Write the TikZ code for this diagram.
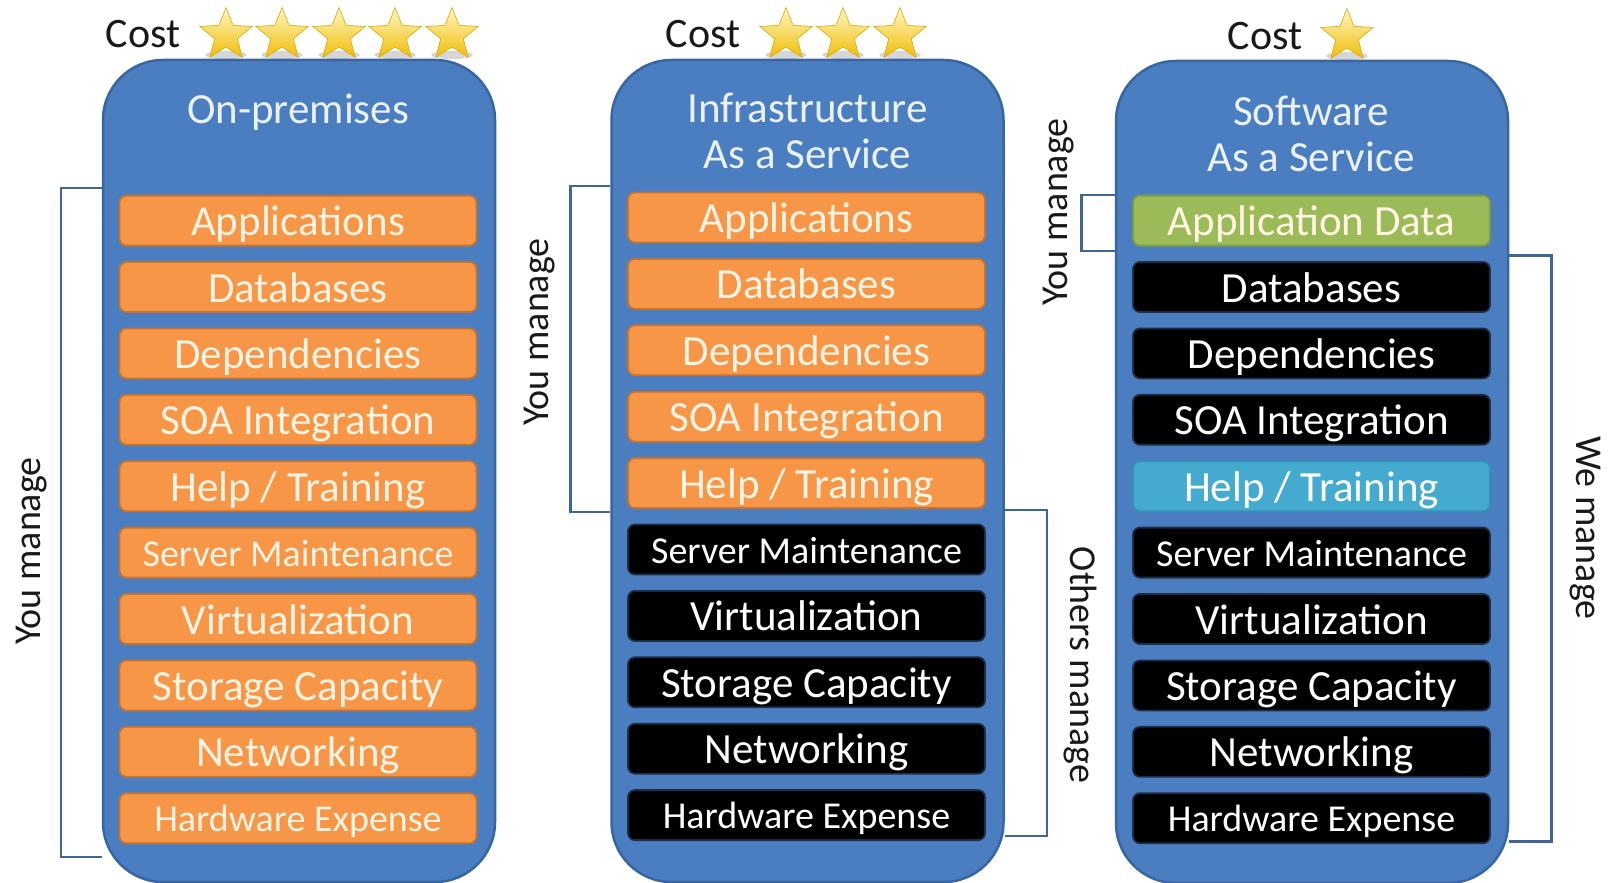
\documentclass[tikz,border=0pt]{standalone}
\usepackage{fontspec}
\setmainfont{Carlito}
\usetikzlibrary{shapes.geometric}
\definecolor{contblue}{HTML}{4A7EC1}
\definecolor{contedge}{HTML}{3766A3}
\definecolor{orangebox}{HTML}{F79646}
\definecolor{orangeedge}{HTML}{C7732F}
\definecolor{orangetext}{HTML}{FFF3E4}
\definecolor{greenbox}{HTML}{9BBB59}
\definecolor{greenedge}{HTML}{7E9C42}
\definecolor{tealbox}{HTML}{45AAD0}
\definecolor{tealedge}{HTML}{3590B5}
\definecolor{blackedge}{HTML}{1E2D48}
\definecolor{bracketblue}{HTML}{3F6697}
\definecolor{titletext}{HTML}{EAF1FB}
\definecolor{starlight}{HTML}{FFF7C2}
\definecolor{stardark}{HTML}{F0BE0A}
\definecolor{staredge}{HTML}{D9A800}
\begin{document}
\begin{tikzpicture}[x=1pt,y=-1pt,
  container/.style={draw=contedge, line width=2.5pt, fill=contblue, rounded corners=60pt,
    minimum width=392pt, minimum height=822pt, inner sep=0pt},
  layer/.style={rounded corners=7pt, line width=1.8pt, minimum width=357pt, minimum height=50pt,
    inner sep=0pt, text height=30pt, text depth=0pt, text=white, font=\fontsize{43}{50}\selectfont},
  smalltext/.style={font=\fontsize{38}{45}\selectfont, text height=27pt},
  ownbox/.style={layer, fill=orangebox, draw=orangeedge, text=orangetext},
  blackbox/.style={layer, fill=black, draw=blackedge},
  greenlayer/.style={layer, fill=greenbox, draw=greenedge, text=orangetext},
  teallayer/.style={layer, fill=tealbox, draw=tealedge},
  title/.style={text=titletext, font=\fontsize{43}{46}\selectfont, align=center, text height=30pt, text depth=0pt},
  costtext/.style={text=black!90, font=\fontsize{42}{48}\selectfont},
  starnode/.style={star, star points=5, star point ratio=2.3, minimum size=55pt, inner sep=0pt,
    top color=starlight, bottom color=stardark, draw=staredge, line width=0.6pt},
  starshadow/.style={fill=black!35, opacity=0.45},
  bracket/.style={draw=bracketblue, line width=2.2pt},
  sidetext/.style={text=black!90, font=\fontsize{38}{45}\selectfont}
]
\useasboundingbox (0,0) rectangle (1609,883);
\clip (0,0) rectangle (1609,883);
\fill[white] (0,0) rectangle (1609,883);

% ---------- cost rows ----------
\node[costtext] (cost1) at (143,34) {Cost};
\foreach \sx/\nm in {226/s11, 282/s12, 339/s13, 395/s14, 452/s15}{
  \fill[starshadow] (\sx,55) ellipse (21pt and 4pt);
  \node[starnode] (\nm) at (\sx,35) {};
}
\node[costtext] (cost2) at (703,34) {Cost};
\foreach \sx/\nm in {786/s21, 843/s22, 900/s23}{
  \fill[starshadow] (\sx,55) ellipse (21pt and 4pt);
  \node[starnode] (\nm) at (\sx,35) {};
}
\node[costtext] (cost3) at (1265,36) {Cost};
\fill[starshadow] (1347,56) ellipse (21pt and 4pt);
\node[starnode] (s31) at (1347,36) {};

% ---------- containers ----------
\node[container] (col1) at (299,471) {};
\node[container] (col2) at (807.5,471) {};
\node[container] (col3) at (1312,472) {};

\node[title] (t1) at (298,108) {On-premises};
\node[title] (t2) at (807.5,153.5) {Infrastructure\\As a Service};
\node[title] (t3) at (1311,156.5) {Software\\As a Service};

% ---------- column 1 ----------
\node[ownbox] (a0) at (298,220.6) {Applications};
\node[ownbox] (a1) at (298,287.0) {Databases};
\node[ownbox] (a2) at (298,353.4) {Dependencies};
\node[ownbox] (a3) at (298,419.8) {SOA Integration};
\node[ownbox] (a4) at (298,486.2) {Help / Training};
\node[ownbox,smalltext] (a5) at (298,552.6) {Server Maintenance};
\node[ownbox] (a6) at (298,619.0) {Virtualization};
\node[ownbox] (a7) at (298,685.4) {Storage Capacity};
\node[ownbox] (a8) at (298,751.8) {Networking};
\node[ownbox,smalltext] (a9) at (298,818.2) {Hardware Expense};

% ---------- column 2 ----------
\node[ownbox] (b0) at (806.5,217.5) {Applications};
\node[ownbox] (b1) at (806.5,283.9) {Databases};
\node[ownbox] (b2) at (806.5,350.3) {Dependencies};
\node[ownbox] (b3) at (806.5,416.7) {SOA Integration};
\node[ownbox] (b4) at (806.5,483.1) {Help / Training};
\node[blackbox,smalltext] (b5) at (806.5,549.5) {Server Maintenance};
\node[blackbox] (b6) at (806.5,615.9) {Virtualization};
\node[blackbox] (b7) at (806.5,682.3) {Storage Capacity};
\node[blackbox] (b8) at (806.5,748.7) {Networking};
\node[blackbox,smalltext] (b9) at (806.5,815.1) {Hardware Expense};

% ---------- column 3 ----------
\node[greenlayer] (c0) at (1311.5,220.6) {Application Data};
\node[blackbox] (c1) at (1311.5,287.0) {Databases};
\node[blackbox] (c2) at (1311.5,353.4) {Dependencies};
\node[blackbox] (c3) at (1311.5,419.8) {SOA Integration};
\node[teallayer] (c4) at (1311.5,486.2) {Help / Training};
\node[blackbox,smalltext] (c5) at (1311.5,552.6) {Server Maintenance};
\node[blackbox] (c6) at (1311.5,619.0) {Virtualization};
\node[blackbox] (c7) at (1311.5,685.4) {Storage Capacity};
\node[blackbox] (c8) at (1311.5,751.8) {Networking};
\node[blackbox,smalltext] (c9) at (1311.5,818.2) {Hardware Expense};

% ---------- brackets ----------
% column 1, you manage
\coordinate (k1a) at (col1.west |- 0,188);
\coordinate (k1b) at (61,188);
\coordinate (k1c) at (61,857);
\coordinate (k1d) at (col1.west |- 0,857);
\draw[bracket] (k1a) -- (k1b) -- (k1c) -- (k1d);
\node[sidetext, rotate=90] (m1) at (32,551) {You manage};

% column 2, you manage
\coordinate (k2a) at (col2.west |- 0,186);
\coordinate (k2b) at (570.5,186);
\coordinate (k2c) at (570.5,512);
\coordinate (k2d) at (col2.west |- 0,512);
\draw[bracket] (k2a) -- (k2b) -- (k2c) -- (k2d);
\node[sidetext, rotate=90] (m2) at (540,332) {You manage};

% column 2, others manage
\coordinate (k3a) at (col2.east |- 0,510);
\coordinate (k3b) at (1047,510);
\coordinate (k3c) at (1047,836);
\coordinate (k3d) at (col2.east |- 0,836);
\draw[bracket] (k3a) -- (k3b) -- (k3c) -- (k3d);
\node[sidetext, rotate=-90] (m3) at (1080,665) {Others manage};

% column 3, you manage
\coordinate (k4a) at (col3.west |- 0,195);
\coordinate (k4b) at (1081.5,195);
\coordinate (k4c) at (1081.5,251);
\coordinate (k4d) at (col3.west |- 0,251);
\draw[bracket] (k4a) -- (k4b) -- (k4c) -- (k4d);
\node[sidetext, rotate=90] (m4) at (1059,212) {You manage};

% column 3, we manage
\coordinate (k5a) at (col3.east |- 0,255.5);
\coordinate (k5b) at (1551.5,255.5);
\coordinate (k5c) at (1551.5,841.5);
\coordinate (k5d) at (col3.east |- 0,841.5);
\draw[bracket] (k5a) -- (k5b) -- (k5c) -- (k5d);
\node[sidetext, rotate=-90] (m5) at (1585,528) {We manage};
\end{tikzpicture}
\end{document}
